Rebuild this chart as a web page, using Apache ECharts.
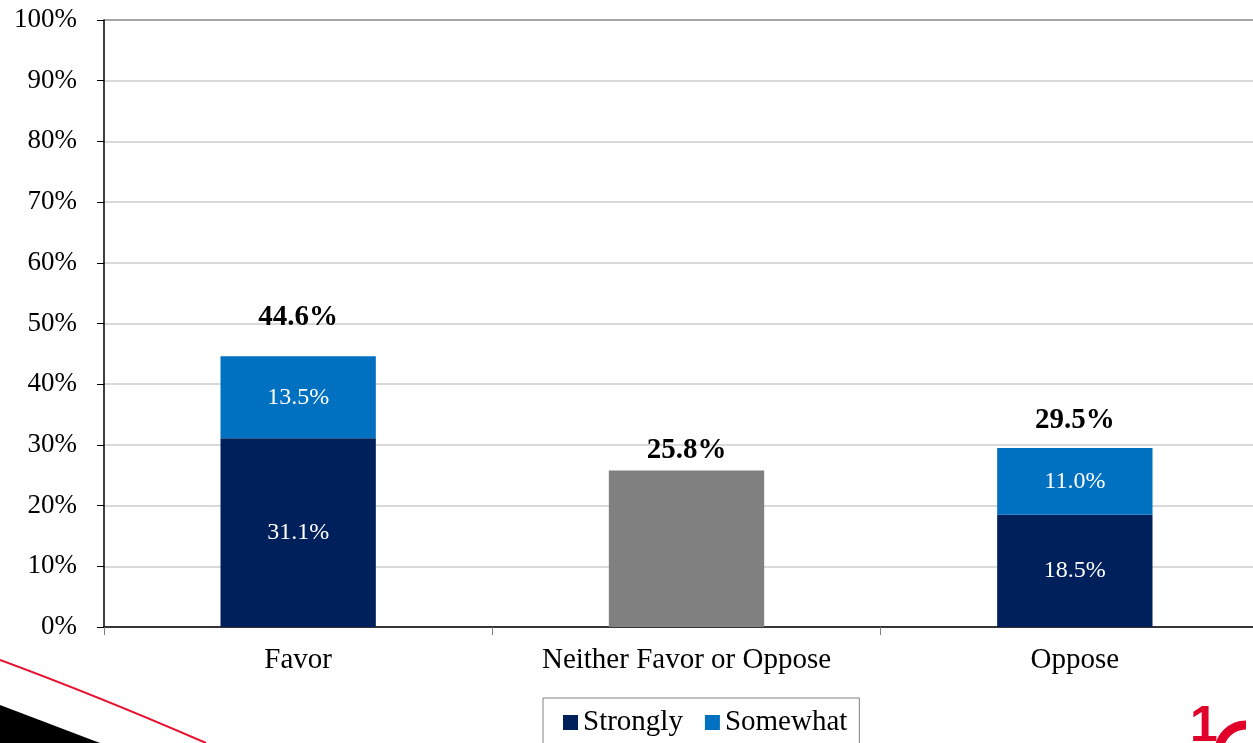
<!DOCTYPE html>
<html>
<head>
<meta charset="utf-8">
<script src="https://cdn.jsdelivr.net/npm/echarts@6/dist/echarts.min.js"></script>
<style>
  html, body { margin: 0; padding: 0; background: #fff; }
  #chart { width: 1253px; height: 743px; }
</style>
</head>
<body>
<div id="chart"></div>
<script>
const categories = ['Favor', 'Neither Favor or Oppose', 'Oppose']
const strongly = [31.1, null, 18.5]
const somewhat = [13.5, null, 11.0]
const neither = [null, 25.8, null]
const totals = [44.6, 25.8, 29.5]
const yTicks = [0, 10, 20, 30, 40, 50, 60, 70, 80, 90, 100]

// offsets of the bold total labels above each bar (px)
const totalOffsets = [-24, -5, -13]

const font = '"Liberation Serif", "Times New Roman", serif'

var chart = echarts.init(document.getElementById('chart'))

var splitColors = yTicks.map((t) => t == 100 ? '#a6a6a6' : '#d9d9d9')

const option = {
  animation: false,
  textStyle: { fontFamily: font, color: '#000' },
  grid: { left: 104, top: 20, width: 1165, height: 607, containLabel: false, outerBoundsMode: 'none' },
  legend: {
    data: ['Strongly', 'Somewhat'],
    left: 543,
    top: 698,
    padding: [10, 12, 20, 20],
    borderColor: '#808080',
    borderWidth: 1,
    itemWidth: 15,
    itemHeight: 15,
    itemGap: 22,
    icon: 'rect',
    textStyle: { fontFamily: font, fontSize: 29, color: '#000' }
  },
  xAxis: {
    type: 'category',
    data: categories,
    axisLine: { lineStyle: { color: '#000', width: 1.5 } },
    axisTick: { show: true, length: 8, lineStyle: { color: '#808080' } },
    axisLabel: { fontFamily: font, fontSize: 29, color: '#000', margin: 19 }
  },
  yAxis: {
    type: 'value',
    min: 0,
    max: 100,
    interval: 10,
    axisLine: { show: true, lineStyle: { color: '#000', width: 1.5 } },
    axisTick: { show: true, length: 7, lineStyle: { color: '#000' } },
    axisLabel: {
      fontFamily: font, fontSize: 27, color: '#000', margin: 27,
      formatter: (v) => v + '%'
    },
    splitLine: { lineStyle: { color: splitColors, width: 2 } }
  },
  series: [
    {
      name: 'Strongly',
      type: 'bar',
      stack: 'total',
      barWidth: '40%',
      data: strongly,
      itemStyle: { color: '#00205b' },
      label: {
        show: true, position: 'inside', color: '#fff',
        fontFamily: font, fontSize: 24,
        formatter: (p) => p.value.toFixed(1) + '%'
      }
    },
    {
      name: 'Somewhat',
      type: 'bar',
      stack: 'total',
      data: somewhat,
      itemStyle: { color: '#0070c0' },
      label: {
        show: true, position: 'inside', color: '#fff',
        fontFamily: font, fontSize: 24,
        formatter: (p) => p.value.toFixed(1) + '%'
      }
    },
    {
      name: 'Neither',
      type: 'bar',
      stack: 'total',
      data: neither,
      itemStyle: { color: '#808080' }
    },
    {
      name: 'Total',
      type: 'scatter',
      symbolSize: 0,
      silent: true,
      itemStyle: { color: '#000', opacity: 1 },
      data: totals.map((v, i) => ({
        value: v,
        label: { offset: [0, totalOffsets[i]] }
      })),
      label: {
        show: true, position: 'top', distance: 0, color: '#000',
        fontFamily: font, fontSize: 29, fontWeight: 'bold',
        formatter: (p) => p.value.toFixed(1) + '%'
      }
    }
  ],
  graphic: [
    {
      type: 'polygon',
      shape: { points: [[0, 705], [100, 743], [0, 743]] },
      style: { fill: '#000' }
    },
    {
      type: 'bezierCurve',
      shape: { x1: 0, y1: 660, cpx1: 95, cpy1: 695, x2: 206, y2: 743 },
      style: { stroke: '#e8102e', lineWidth: 2, fill: null }
    },
    {
      type: 'text',
      x: 1190,
      y: 702,
      style: { text: '1', font: 'bold 50px "Liberation Sans", sans-serif', fill: '#e0002a' }
    },
    {
      type: 'arc',
      shape: { cx: 1246, cy: 752, r: 27, startAngle: Math.PI, endAngle: Math.PI * 1.5 },
      style: { stroke: '#e0002a', lineWidth: 9, fill: null }
    }
  ]
}

chart.setOption(option)
</script>
</body>
</html>
